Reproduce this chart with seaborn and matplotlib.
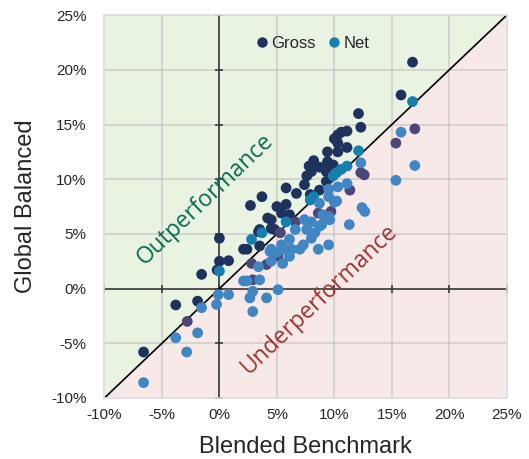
import numpy as np
import pandas as pd
import seaborn as sns
import matplotlib
matplotlib.use('Agg')
import matplotlib.pyplot as plt
from matplotlib.lines import Line2D

# rendimenti (%): benchmark (x) e portafoglio (y)
gross_x = [16.8, 15.8, 12.1, 12.3, 11.1, 10.6, 10.3, 10.0, 10.3, 11.1, 10.3, 9.4, 9.4, 8.2, 7.8,
           8.7, 8.0, 7.6, 7.4, 9.9, 9.3, 9.3, 8.7, 5.8, 6.7, 7.9, 3.7, 5.0, 5.8, 2.7,
           5.4, 6.1, 4.2, 4.5, 6.6, 4.5, 4.8, 3.5, 5.3, 3.4, 2.1, 2.4, 3.5, 0.0, 0.0,
           0.8, -0.2, -1.55, -3.8, -1.9, -6.6,
           17.0, 15.35, 12.3, 12.6, 11.35, 8.6, 9.7, 5.1, 2.8, 4.1, 2.9, -2.8]
gross_y = [20.7, 17.7, 16.0, 14.75, 14.4, 14.3, 14.05, 13.7, 13.3, 12.9, 12.5, 12.5, 11.6, 11.7, 11.2,
           11.1, 10.7, 10.3, 9.5, 11.3, 10.7, 9.8, 9.0, 9.2, 8.7, 8.6, 8.4, 7.5, 7.7, 7.6,
           6.9, 6.75, 6.45, 6.3, 6.1, 5.5, 5.4, 5.4, 5.1, 5.2, 3.6, 3.6, 3.9, 4.6, 2.5,
           2.55, 1.7, 1.3, -1.5, -1.15, -5.8,
           14.6, 13.3, 10.6, 10.4, 9.0, 6.9, 7.05, 2.95, 2.3, 2.2, 0.8, -3.0]

net_x = [16.8, 12.1, 11.1, 10.6, 10.2, 9.9, 9.5, 8.2, 7.9, 5.8, 3.7, 2.8, 0.0, -1.55,
         15.8, 12.3, 17.0, 15.35, 11.1, 10.3, 9.5, 12.4, 12.65, 11.3, 10.0, 8.7, 10.2, 9.5,
         9.6, 9.0, 8.0, 7.4, 7.6, 8.7, 8.3, 8.0, 7.3, 7.0, 6.6, 6.1, 6.3, 5.4, 5.7,
         5.0, 4.5, 9.5, 8.6, 8.9, 3.4, 4.5, 4.4, 6.1, 5.5, 2.1, 2.4, 3.5, 2.9, 2.65,
         4.1, 5.1, 2.9, 0.8, -0.25, -0.1, -3.8, -1.9, -2.85, -6.6]
net_y = [17.1, 12.6, 11.2, 10.9, 10.6, 10.3, 9.1, 8.4, 8.1, 6.1, 5.1, 4.5, 1.6, -1.75,
         14.3, 11.5, 11.25, 9.9, 9.6, 9.3, 8.4, 7.4, 7.05, 5.85, 7.9, 7.8, 8.0, 6.6,
         6.3, 6.75, 6.1, 6.3, 5.4, 5.7, 5.1, 4.6, 4.0, 3.6, 5.4, 4.5, 3.6, 4.0, 3.6,
         3.3, 3.6, 4.0, 3.6, 5.85, 2.0, 2.5, 3.4, 2.95, 2.3, 0.7, 0.7, 0.8, -0.25, -0.85,
         -0.85, -0.1, -2.1, -0.55, -1.45, -0.55, -4.5, -4.05, -5.8, -8.6]

ticks = [-10, -5, 0, 5, 10, 15, 20, 25]
tick_labels = [f'{t}%' for t in ticks]

COLORI = {
    ('Gross', True): '#1d335e',
    ('Gross', False): '#4b4779',
    ('Net', True): '#157fae',
    ('Net', False): '#3f86c3',
}

df = pd.concat([
    pd.DataFrame({'x': gross_x, 'y': gross_y, 'serie': 'Gross'}),
    pd.DataFrame({'x': net_x, 'y': net_y, 'serie': 'Net'}),
], ignore_index=True)
df['sopra'] = df['y'] >= df['x']
df['colore'] = [COLORI[(s, a)] for s, a in zip(df['serie'], df['sopra'])]

sns.set_theme(style='white')
plt.rcParams['font.family'] = ['Liberation Sans', 'DejaVu Sans']

fig = plt.figure(figsize=(5.29, 4.59), dpi=100)
ax = fig.add_axes([0.1975, 0.133, 0.7605, 0.834])
lo, hi = ticks[0], ticks[-1]
ax.set_xlim(lo, hi)
ax.set_ylim(lo, hi)

diag = np.array([lo, hi])
ax.fill_between(diag, diag, hi, color='#e9f3e2', zorder=0)
ax.fill_between(diag, lo, diag, color='#f7e9e8', zorder=0)

for t in ticks[1:-1]:
    ax.axvline(t, color='#bdbdbd', alpha=0.6, lw=1.3, zorder=1)
    ax.axhline(t, color='#bdbdbd', alpha=0.6, lw=1.3, zorder=1)

ax.axhline(0, color='#3b3b3b', lw=1.2, zorder=2)
ax.axvline(0, color='#3b3b3b', lw=1.2, zorder=2)
ax.plot(ticks, np.zeros(len(ticks)), ls='', marker='|', ms=6, mew=1.2, color='#3b3b3b', zorder=2)
ax.plot(np.zeros(len(ticks)), ticks, ls='', marker='_', ms=6, mew=1.2, color='#3b3b3b', zorder=2)
ax.plot(diag, diag, color='black', lw=1.2, zorder=2)

for serie in ['Gross', 'Net']:
    d = df[df['serie'] == serie]
    sns.scatterplot(data=d, x='x', y='y', c=d['colore'], s=60, linewidth=0, ax=ax, zorder=3)

ax.text(-1.2, 8.1, 'Outperformance', rotation=43.6, color='#0b6b52', fontsize=16.5,
        family=['Open Sans', 'DejaVu Sans'], ha='center', va='center', zorder=4)
ax.text(8.7, -1.0, 'Underperformance', rotation=43.6, color='#9a3434', fontsize=16.5,
        family=['Open Sans', 'DejaVu Sans'], ha='center', va='center', zorder=4)

maniglie = [Line2D([], [], ls='', marker='o', ms=7.5, mew=0, color=COLORI[(s, True)], label=s)
            for s in ['Gross', 'Net']]
ax.legend(handles=maniglie, loc='upper center', bbox_to_anchor=(0.515, 0.985), ncol=2, frameon=False,
          fontsize=12, handletextpad=0.05, columnspacing=0.6, handlelength=1.0)

ax.set_xticks(ticks)
ax.set_yticks(ticks)
ax.set_xticklabels(tick_labels, fontsize=11)
ax.set_yticklabels(tick_labels, fontsize=11)
ax.tick_params(length=0, pad=7)
ax.tick_params(axis='y', pad=13)
for sp in ax.spines.values():
    sp.set_color('#dcdcdc')
    sp.set_linewidth(1.2)
ax.set_xlabel('Blended Benchmark', fontsize=17, labelpad=10)
ax.set_ylabel('Global Balanced', fontsize=17, labelpad=10)

plt.savefig('out.png', dpi=100)
